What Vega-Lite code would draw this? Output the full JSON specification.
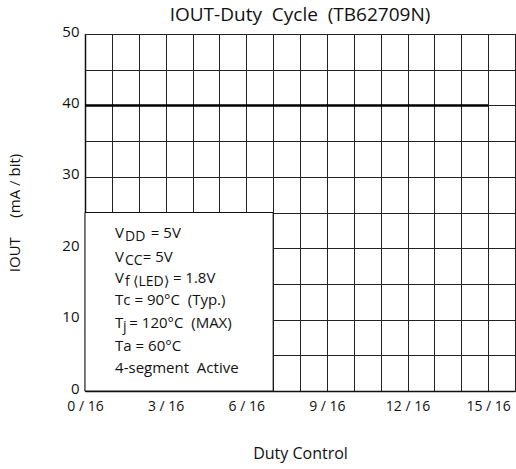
{
  "$schema": "https://vega.github.io/schema/vega-lite/v6.json",
  "width": 430,
  "height": 357,
  "autosize": "none",
  "padding": {"left": 85, "top": 34, "right": 1, "bottom": 78},
  "background": "white",
  "config": {
    "font": "Open Sans",
    "view": {"stroke": "#111", "strokeWidth": 1}
  },
  "title": {
    "text": "IOUT-Duty\u00a0 Cycle\u00a0 (TB62709N)",
    "fontSize": 19,
    "fontWeight": "normal",
    "color": "#111",
    "offset": -1,
    "anchor": "middle"
  },
  "datasets": {
    "line": [
      {"duty": 0, "iout": 40},
      {"duty": 15, "iout": 40}
    ],
    "box": [
      {"x0": 0, "x1": 7, "y0": 0, "y1": 25}
    ],
    "notes": [
      {"x": 1.12, "y": 22.1, "kind": "main", "t": "V"},
      {"x": 1.49, "y": 22.1, "kind": "sub", "t": "DD"},
      {"x": 2.45, "y": 22.1, "kind": "main", "t": "= 5V"},
      {"x": 1.12, "y": 18.8, "kind": "main", "t": "V"},
      {"x": 1.49, "y": 18.8, "kind": "sub", "t": "CC"},
      {"x": 2.15, "y": 18.8, "kind": "main", "t": "= 5V"},
      {"x": 1.12, "y": 15.8, "kind": "main", "t": "V"},
      {"x": 1.49, "y": 15.8, "kind": "sub", "t": "f ⟨LED⟩"},
      {"x": 3.27, "y": 15.8, "kind": "main", "t": "= 1.8V"},
      {"x": 1.12, "y": 12.8, "kind": "main", "t": "Tc = 90°C\u00a0 (Typ.)"},
      {"x": 1.12, "y": 9.5, "kind": "main", "t": "T"},
      {"x": 1.41, "y": 9.5, "kind": "sub", "t": "j"},
      {"x": 1.65, "y": 9.5, "kind": "main", "t": "= 120°C\u00a0 (MAX)"},
      {"x": 1.12, "y": 6.3, "kind": "main", "t": "Ta = 60°C"},
      {"x": 1.12, "y": 3.2, "kind": "main", "t": "4-segment\u00a0 Active"}
    ]
  },
  "layer": [
    {
      "data": {"name": "line"},
      "mark": {"type": "line", "color": "#000", "strokeWidth": 2.5},
      "encoding": {
        "x": {
          "field": "duty",
          "type": "quantitative",
          "scale": {"domain": [0, 16], "nice": false, "zero": false},
          "axis": {
            "title": "Duty Control",
            "titleFont": "Open Sans",
            "titleFontSize": 16,
            "titleFontWeight": "normal",
            "titleColor": "#111",
            "titlePadding": 32,
            "values": [0,1,2,3,4,5,6,7,8,9,10,11,12,13,14,15,16],
            "tickCount": 40,
            "labelExpr": "datum.value % 3 == 0 && datum.value < 16 ? datum.value + ' / 16' : ''",
            "labelFontSize": 14,
            "labelColor": "#111",
            "labelPadding": 8,
            "labelFlush": false,
            "labelOverlap": false,
            "ticks": false,
            "domainColor": "#111",
            "domainWidth": 1.5,
            "grid": true,
            "gridColor": "#222",
            "gridWidth": 1,
            "gridOpacity": 1
          }
        },
        "y": {
          "field": "iout",
          "type": "quantitative",
          "scale": {"domain": [0, 50], "nice": false},
          "axis": {
            "title": "IOUT\u00a0\u00a0\u00a0\u00a0 (mA / bit)",
            "titleFont": "Open Sans",
            "titleFontSize": 15,
            "titleFontWeight": "normal",
            "titleColor": "#111",
            "titlePadding": 39,
            "values": [0,5,10,15,20,25,30,35,40,45,50],
            "tickCount": 40,
            "labelExpr": "datum.value % 10 == 0 ? datum.value : ''",
            "labelFontSize": 15,
            "labelColor": "#111",
            "labelPadding": 6,
            "labelOffset": -3,
            "labelFlush": false,
            "labelOverlap": false,
            "ticks": false,
            "domainColor": "#111",
            "domainWidth": 1.5,
            "grid": true,
            "gridColor": "#222",
            "gridWidth": 1,
            "gridOpacity": 1
          }
        }
      }
    },
    {
      "data": {"name": "box"},
      "mark": {"type": "rect", "fill": "white", "stroke": "#111", "strokeWidth": 1},
      "encoding": {
        "x": {"field": "x0", "type": "quantitative"},
        "x2": {"field": "x1"},
        "y": {"field": "y0", "type": "quantitative"},
        "y2": {"field": "y1"}
      }
    },
    {
      "data": {"name": "notes"},
      "transform": [{"filter": "datum.kind == 'main'"}],
      "mark": {"type": "text", "align": "left", "baseline": "middle", "fontSize": 15, "color": "#111"},
      "encoding": {
        "x": {"field": "x", "type": "quantitative"},
        "y": {"field": "y", "type": "quantitative"},
        "text": {"field": "t"}
      }
    },
    {
      "data": {"name": "notes"},
      "transform": [{"filter": "datum.kind == 'sub'"}],
      "mark": {"type": "text", "align": "left", "baseline": "middle", "fontSize": 14, "dy": 4, "color": "#111"},
      "encoding": {
        "x": {"field": "x", "type": "quantitative"},
        "y": {"field": "y", "type": "quantitative"},
        "text": {"field": "t"}
      }
    }
  ]
}
